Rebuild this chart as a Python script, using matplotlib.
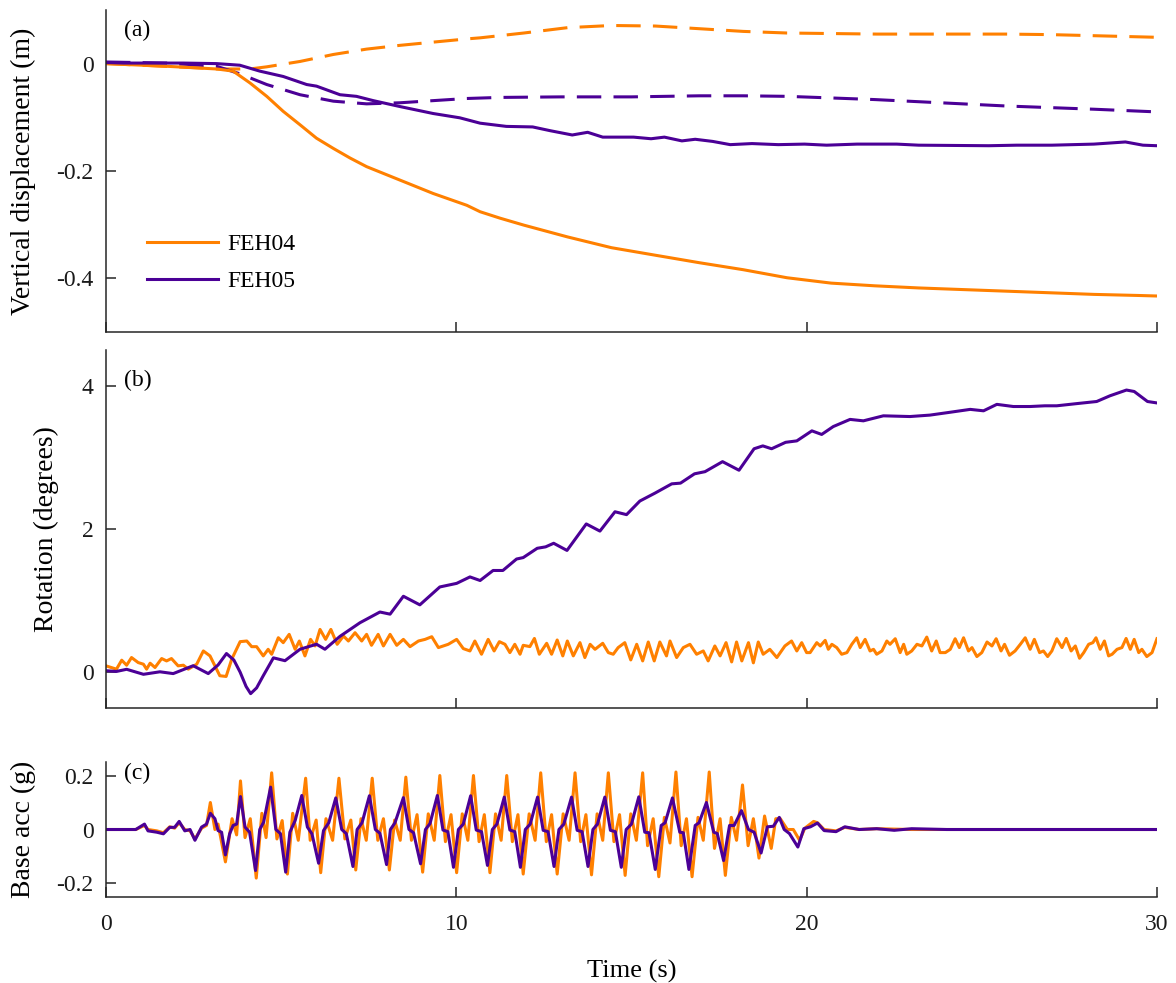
import matplotlib
matplotlib.use("Agg")
import matplotlib.pyplot as plt
from matplotlib.lines import Line2D

plt.rcParams['font.family'] = ['Liberation Serif', 'DejaVu Serif']
plt.rcParams['axes.unicode_minus'] = False

ORANGE = '#FF8000'
PURPLE = '#4B0096'
AXCOL = '#262626'

series_names = ['FEH04', 'FEH05']
panel_tags = ['(a)', '(b)', '(c)']
x_ticks = [0, 10, 20, 30]
x_ticklabels = ['0', '10', '20', '30']
a_ticks = [-0.4, -0.2, 0]
a_ticklabels = ['-0.4', '-0.2', '0']
b_ticks = [0, 2, 4]
b_ticklabels = ['0', '2', '4']
c_ticks = [-0.2, 0, 0.2]
c_ticklabels = ['-0.2', '0', '0.2']

# (a) vertical displacement (m): (time s, value)
disp_feh04_solid = [(0, 0), (1.73, -0.005), (3.16, -0.01), (3.63, -0.014), (4.11, -0.036), (4.59, -0.061),
                    (5.06, -0.089), (5.54, -0.114), (6.01, -0.139), (6.49, -0.158), (6.97, -0.176),
                    (7.44, -0.192), (8.39, -0.217), (9.34, -0.242), (10.3, -0.264), (10.68, -0.276),
                    (11.25, -0.288), (11.93, -0.301), (13.18, -0.323), (14.43, -0.343), (15.68, -0.357),
                    (16.94, -0.371), (18.19, -0.384), (19.44, -0.399), (20.7, -0.409), (21.94, -0.414),
                    (23.2, -0.418), (24.45, -0.421), (25.7, -0.424), (26.95, -0.427), (28.2, -0.43),
                    (29.46, -0.432), (30, -0.433)]
disp_feh04_dash = [(0, 0), (2.68, -0.008), (3.16, -0.01), (4.11, -0.01), (4.59, -0.006), (5.54, 0.004),
                   (6.49, 0.017), (7.44, 0.027), (8.39, 0.034), (9.34, 0.04), (10.3, 0.046), (10.68, 0.048),
                   (11.93, 0.057), (13.18, 0.067), (14.43, 0.071), (15.68, 0.07), (16.94, 0.065),
                   (18.19, 0.06), (19.44, 0.057), (20.7, 0.056), (22, 0.055), (24, 0.055), (25.7, 0.055),
                   (26.95, 0.054), (28.2, 0.052), (30, 0.049)]
disp_feh05_solid = [(0, 0.002), (0.5, 0.001), (2.2, 0.001), (3.16, 0.0), (3.82, -0.003), (4.39, -0.014),
                    (5.06, -0.024), (5.73, -0.039), (6.01, -0.042), (6.68, -0.058), (7.15, -0.061),
                    (7.63, -0.069), (8.39, -0.08), (9.34, -0.093), (10.1, -0.101), (10.68, -0.111),
                    (11.43, -0.117), (12.18, -0.118), (12.68, -0.125), (13.31, -0.133), (13.75, -0.128),
                    (14.18, -0.137), (15.06, -0.137), (15.56, -0.14), (15.94, -0.137), (16.44, -0.144),
                    (16.82, -0.141), (17.32, -0.145), (17.82, -0.151), (18.44, -0.149), (19.19, -0.151),
                    (19.94, -0.15), (20.57, -0.152), (21.44, -0.15), (22.57, -0.15), (23.2, -0.152),
                    (25.2, -0.153), (26.0, -0.152), (27.0, -0.152), (28.2, -0.15), (29.1, -0.146),
                    (29.6, -0.152), (30, -0.153)]
disp_feh05_dash = [(0, 0.003), (1.73, 0.001), (3.16, -0.005), (3.82, -0.019), (4.59, -0.039), (5.54, -0.058),
                   (6.49, -0.07), (7.44, -0.075), (8.39, -0.073), (9.34, -0.069), (10.3, -0.065),
                   (11.25, -0.063), (13, -0.062), (15, -0.062), (16.94, -0.06), (18.19, -0.06),
                   (19.44, -0.061), (20.7, -0.064), (21.94, -0.067), (23.2, -0.071), (24.45, -0.075),
                   (25.7, -0.079), (26.95, -0.082), (28.2, -0.085), (30, -0.09)]

# (b) rotation (degrees)
rot_feh04 = [(0, 0.088), (0.30, 0.042), (0.45, 0.167), (0.59, 0.097), (0.73, 0.204), (0.92, 0.134),
             (1.07, 0.111), (1.16, 0.042), (1.26, 0.125), (1.40, 0.065), (1.59, 0.19), (1.73, 0.157),
             (1.87, 0.19), (2.06, 0.088), (2.21, 0.097), (2.35, 0.042), (2.59, 0.111), (2.78, 0.296),
             (2.97, 0.227), (3.11, 0.088), (3.25, -0.05), (3.43, -0.06), (3.59, 0.181), (3.83, 0.426),
             (4.02, 0.435), (4.16, 0.356), (4.30, 0.356), (4.49, 0.227), (4.63, 0.319), (4.73, 0.25),
             (4.92, 0.481), (5.06, 0.412), (5.23, 0.528), (5.40, 0.319), (5.52, 0.435), (5.68, 0.227),
             (5.84, 0.458), (5.97, 0.366), (6.11, 0.597), (6.27, 0.458), (6.42, 0.597), (6.60, 0.389),
             (6.78, 0.505), (6.92, 0.435), (7.11, 0.551), (7.30, 0.435), (7.44, 0.528), (7.58, 0.375),
             (7.77, 0.528), (7.92, 0.366), (8.11, 0.528), (8.30, 0.375), (8.49, 0.458), (8.68, 0.356),
             (8.92, 0.435), (9.11, 0.458), (9.30, 0.495), (9.49, 0.343), (9.77, 0.389), (10.01, 0.458),
             (10.20, 0.329), (10.39, 0.296), (10.53, 0.435), (10.72, 0.25), (10.91, 0.458), (11.08, 0.296),
             (11.23, 0.426), (11.39, 0.389), (11.53, 0.273), (11.67, 0.389), (11.82, 0.25), (11.91, 0.375),
             (12.10, 0.357), (12.23, 0.471), (12.37, 0.25), (12.58, 0.403), (12.72, 0.25), (12.88, 0.449),
             (13.04, 0.227), (13.17, 0.435), (13.34, 0.227), (13.53, 0.412), (13.67, 0.204), (13.82, 0.389),
             (13.96, 0.319), (14.18, 0.403), (14.34, 0.273), (14.48, 0.25), (14.62, 0.343), (14.81, 0.412),
             (14.98, 0.171), (15.15, 0.389), (15.32, 0.157), (15.48, 0.421), (15.65, 0.157), (15.81, 0.421),
             (16.0, 0.227), (16.10, 0.435), (16.29, 0.204), (16.48, 0.343), (16.67, 0.389), (16.86, 0.25),
             (17.05, 0.296), (17.19, 0.157), (17.38, 0.366), (17.53, 0.227), (17.70, 0.412), (17.86, 0.143),
             (18.0, 0.421), (18.15, 0.157), (18.34, 0.412), (18.48, 0.13), (18.62, 0.421), (18.76, 0.25),
             (18.95, 0.319), (19.15, 0.204), (19.38, 0.366), (19.57, 0.435), (19.72, 0.296), (19.86, 0.412),
             (20.0, 0.273), (20.10, 0.273), (20.29, 0.412), (20.39, 0.366), (20.53, 0.444), (20.62, 0.319),
             (20.72, 0.389), (20.86, 0.343), (21.0, 0.25), (21.15, 0.273), (21.29, 0.389), (21.43, 0.48),
             (21.53, 0.343), (21.67, 0.458), (21.81, 0.296), (21.91, 0.319), (22.0, 0.25), (22.15, 0.296),
             (22.29, 0.435), (22.38, 0.389), (22.53, 0.467), (22.67, 0.273), (22.77, 0.389), (22.86, 0.25),
             (23.0, 0.296), (23.15, 0.389), (23.29, 0.366), (23.43, 0.49), (23.57, 0.296), (23.70, 0.435),
             (23.81, 0.273), (23.96, 0.273), (24.10, 0.319), (24.24, 0.467), (24.36, 0.343), (24.48, 0.48),
             (24.62, 0.296), (24.72, 0.343), (24.86, 0.218), (25.0, 0.273), (25.15, 0.421), (25.29, 0.366),
             (25.41, 0.467), (25.55, 0.296), (25.65, 0.389), (25.79, 0.236), (25.95, 0.296), (26.10, 0.389),
             (26.24, 0.48), (26.38, 0.319), (26.50, 0.458), (26.65, 0.273), (26.76, 0.296), (26.88, 0.218),
             (27.0, 0.296), (27.14, 0.467), (27.29, 0.343), (27.41, 0.471), (27.55, 0.296), (27.67, 0.366),
             (27.79, 0.194), (27.91, 0.273), (28.05, 0.389), (28.17, 0.412), (28.26, 0.48), (28.38, 0.319),
             (28.50, 0.435), (28.62, 0.227), (28.72, 0.25), (28.86, 0.319), (29.0, 0.343), (29.12, 0.471),
             (29.24, 0.319), (29.35, 0.458), (29.48, 0.273), (29.57, 0.319), (29.71, 0.218), (29.86, 0.273),
             (30.0, 0.467)]
rot_feh05 = [(0, 0.02), (0.30, 0.01), (0.59, 0.04), (1.07, -0.03), (1.54, 0.005), (1.92, -0.02), (2.49, 0.09),
             (2.92, -0.02), (3.2, 0.1), (3.44, 0.26), (3.65, 0.17), (3.83, 0.0), (4.0, -0.2), (4.13, -0.3),
             (4.3, -0.22), (4.49, -0.05), (4.78, 0.2), (5.11, 0.16), (5.54, 0.32), (6.01, 0.39), (6.25, 0.32),
             (6.68, 0.5), (7.25, 0.69), (7.82, 0.84), (8.11, 0.81), (8.49, 1.06), (8.96, 0.94), (9.53, 1.19),
             (10.01, 1.24), (10.39, 1.33), (10.68, 1.28), (11.05, 1.42), (11.33, 1.42), (11.72, 1.58),
             (11.91, 1.6), (12.31, 1.73), (12.55, 1.75), (12.78, 1.8), (13.16, 1.7), (13.71, 2.07), (14.1, 1.97),
             (14.53, 2.24), (14.86, 2.2), (15.24, 2.39), (15.67, 2.5), (16.15, 2.63), (16.4, 2.64), (16.8, 2.77),
             (17.1, 2.8), (17.6, 2.94), (18.07, 2.82), (18.5, 3.12), (18.75, 3.16), (19.0, 3.12), (19.4, 3.21),
             (19.72, 3.23), (20.15, 3.37), (20.43, 3.32), (20.76, 3.43), (21.24, 3.53), (21.62, 3.51),
             (22.19, 3.58), (22.95, 3.57), (23.52, 3.59), (24.1, 3.63), (24.67, 3.67), (25.05, 3.65),
             (25.43, 3.74), (25.9, 3.71), (26.38, 3.71), (26.8, 3.72), (27.14, 3.72), (27.7, 3.75),
             (28.28, 3.78), (28.66, 3.86), (29.13, 3.94), (29.35, 3.92), (29.73, 3.78), (30.0, 3.76)]

# (c) base acceleration (g)
acc_feh04 = [(0, 0), (0.85, 0), (1.1, 0.015), (1.2, 0.0), (1.45, -0.005), (1.64, -0.012), (1.82, 0.01),
             (1.96, 0.005), (2.09, 0.025), (2.25, 0.0), (2.4, -0.005), (2.54, -0.035), (2.73, 0.005),
             (2.87, 0.015), (2.98, 0.1), (3.11, 0.0), (3.2, 0.02), (3.41, -0.12), (3.6, 0.04), (3.73, -0.02),
             (3.84, 0.18), (3.97, -0.03), (4.12, 0.04), (4.29, -0.18), (4.45, 0.06), (4.57, -0.03),
             (4.73, 0.21), (4.88, -0.035), (5.03, 0.033), (5.18, -0.165), (5.33, 0.06), (5.49, -0.04),
             (5.70, 0.19), (5.83, -0.04), (6.0, 0.035), (6.13, -0.16), (6.28, 0.04), (6.47, -0.04),
             (6.65, 0.19), (6.82, -0.035), (6.99, 0.035), (7.13, -0.15), (7.28, 0.04), (7.43, -0.04),
             (7.60, 0.19), (7.76, -0.04), (7.92, 0.04), (8.09, -0.15), (8.24, 0.035), (8.40, -0.04),
             (8.56, 0.194), (8.72, -0.04), (8.88, 0.055), (9.04, -0.158), (9.2, 0.058), (9.37, -0.04),
             (9.53, 0.2), (9.69, -0.045), (9.85, 0.055), (10.01, -0.16), (10.17, 0.058), (10.33, -0.04),
             (10.49, 0.2), (10.65, -0.045), (10.8, 0.055), (10.96, -0.16), (11.12, 0.058), (11.28, -0.04),
             (11.44, 0.2), (11.6, -0.045), (11.76, 0.055), (11.91, -0.165), (12.08, 0.058), (12.25, -0.04),
             (12.41, 0.21), (12.57, -0.045), (12.72, 0.055), (12.88, -0.165), (13.05, 0.058), (13.22, -0.04),
             (13.39, 0.21), (13.55, -0.045), (13.7, 0.055), (13.86, -0.168), (14.02, 0.058), (14.18, -0.04),
             (14.34, 0.21), (14.5, -0.045), (14.66, 0.055), (14.82, -0.17), (14.98, 0.058), (15.14, -0.04),
             (15.32, 0.21), (15.46, -0.06), (15.62, 0.04), (15.78, -0.175), (15.94, 0.045), (16.1, -0.05),
             (16.27, 0.213), (16.42, -0.06), (16.57, 0.04), (16.73, -0.175), (16.9, 0.045), (17.05, -0.04),
             (17.22, 0.213), (17.37, -0.07), (17.53, 0.04), (17.68, -0.17), (17.85, 0.045), (18.0, -0.04),
             (18.17, 0.165), (18.33, -0.06), (18.48, 0.04), (18.64, -0.106), (18.8, 0.05), (18.99, -0.07),
             (19.12, 0.04), (19.25, 0.04), (19.45, 0.0), (19.62, 0.0), (19.8, -0.04), (19.95, 0.005),
             (20.2, 0.03), (20.31, 0.025), (20.5, 0.0), (20.84, -0.005), (21.09, 0.008), (21.5, 0.0),
             (22, 0.003), (23, 0), (30, 0)]
acc_feh05 = [(0, 0), (0.85, 0), (1.1, 0.02), (1.2, -0.005), (1.45, -0.01), (1.64, -0.016), (1.82, 0.008),
             (1.96, 0.008), (2.09, 0.03), (2.25, -0.005), (2.4, 0.0), (2.54, -0.04), (2.73, 0.009),
             (2.87, 0.02), (2.98, 0.06), (3.11, 0.04), (3.2, -0.004), (3.3, -0.01), (3.41, -0.094),
             (3.53, -0.016), (3.63, 0.015), (3.73, 0.02),
             (3.84, 0.122), (3.97, 0.009), (4.1, -0.01), (4.27, -0.152), (4.39, 0.0), (4.5, 0.027),
             (4.70, 0.157), (4.85, 0.0), (4.98, -0.015), (5.13, -0.158), (5.25, -0.01), (5.4, 0.033),
             (5.59, 0.126), (5.75, 0.009), (5.88, -0.016), (6.07, -0.125), (6.21, -0.004), (6.36, 0.025),
             (6.56, 0.117), (6.73, 0.0), (6.86, -0.015), (7.05, -0.137), (7.17, 0.0), (7.31, 0.025),
             (7.52, 0.125), (7.69, 0.0), (7.82, -0.014), (8.01, -0.13), (8.12, 0.0), (8.25, 0.025),
             (8.49, 0.118), (8.65, 0.0), (8.78, -0.012), (8.98, -0.127), (9.12, 0.0), (9.25, 0.022),
             (9.46, 0.126), (9.62, -0.002), (9.76, -0.008), (9.92, -0.14), (10.06, 0.0), (10.2, 0.02),
             (10.41, 0.125), (10.57, -0.002), (10.72, -0.008), (10.89, -0.133), (11.03, 0.0), (11.16, 0.02),
             (11.37, 0.12), (11.53, -0.002), (11.67, -0.008), (11.83, -0.14), (11.97, 0.0), (12.11, 0.02),
             (12.32, 0.12), (12.48, -0.003), (12.62, -0.008), (12.79, -0.137), (12.93, 0.0), (13.07, 0.02),
             (13.29, 0.12), (13.45, -0.003), (13.59, -0.008), (13.76, -0.137), (13.9, 0.0), (14.03, 0.02),
             (14.24, 0.12), (14.4, -0.003), (14.54, -0.008), (14.71, -0.14), (14.85, 0.0), (15.0, 0.02),
             (15.21, 0.121), (15.38, -0.01), (15.5, -0.012), (15.68, -0.148), (15.85, 0.015), (15.96, 0.025),
             (16.17, 0.117), (16.38, -0.01), (16.48, -0.012), (16.64, -0.148), (16.82, 0.015), (16.93, 0.025),
             (17.14, 0.1), (17.35, -0.01), (17.45, -0.015), (17.63, -0.115), (17.8, 0.015), (17.93, 0.015),
             (18.14, 0.07), (18.34, 0.0), (18.5, -0.01), (18.7, -0.087), (18.88, 0.01), (19.05, 0.012),
             (19.22, 0.045), (19.36, 0.0), (19.51, -0.015), (19.75, -0.065), (19.92, 0.003), (20.11, 0.01),
             (20.31, 0.024), (20.5, -0.004), (20.84, -0.008), (21.09, 0.01), (21.5, 0.0), (22.0, 0.003),
             (22.5, -0.003), (23.0, 0.003), (24, 0), (30, 0)]


def xy(pairs):
    return [p[0] for p in pairs], [p[1] for p in pairs]


fig = plt.figure(figsize=(11.76, 9.83), dpi=100)
L, W = 0.0901, 0.8937
ax_a = fig.add_axes([L, 0.6623, W, 0.3276])
ax_b = fig.add_axes([L, 0.2798, W, 0.3642])
ax_c = fig.add_axes([L, 0.0875, W, 0.1373])

LW = 2.2
DASH = (0, (8, 4))

ax_a.plot(*xy(disp_feh04_dash), color=ORANGE, lw=LW, ls=DASH)
ax_a.plot(*xy(disp_feh05_dash), color=PURPLE, lw=LW, ls=DASH)
ax_a.plot(*xy(disp_feh04_solid), color=ORANGE, lw=LW)
ax_a.plot(*xy(disp_feh05_solid), color=PURPLE, lw=LW)

ax_b.plot(*xy(rot_feh04), color=ORANGE, lw=LW)
ax_b.plot(*xy(rot_feh05), color=PURPLE, lw=LW)

ax_c.plot(*xy(acc_feh04), color=ORANGE, lw=LW)
ax_c.plot(*xy(acc_feh05), color=PURPLE, lw=LW)

ax_a.set_ylim(-0.5, 0.1)
ax_b.set_ylim(-0.5, 4.5)
ax_c.set_ylim(-0.25, 0.25)
ax_a.set_yticks(a_ticks, a_ticklabels)
ax_b.set_yticks(b_ticks, b_ticklabels)
ax_c.set_yticks(c_ticks, c_ticklabels)

for ax in (ax_a, ax_b, ax_c):
    ax.set_xlim(0, 30)
    ax.set_xticks(x_ticks)
    for s in ('top', 'right'):
        ax.spines[s].set_visible(False)
    for s in ('left', 'bottom'):
        ax.spines[s].set_color(AXCOL)
        ax.spines[s].set_linewidth(1.1)
    ax.tick_params(direction='in', length=7, width=1.1, color=AXCOL, labelsize=17,
                   labelcolor='#1a1a1a')
    ax.tick_params(axis='y', pad=9)
    ax.tick_params(axis='x', pad=12)

ax_a.set_xticklabels([])
ax_b.set_xticklabels([])
ax_c.set_xticklabels(x_ticklabels)

ax_a.set_ylabel('Vertical displacement (m)', fontsize=20)
ax_b.set_ylabel('Rotation (degrees)', fontsize=20)
ax_c.set_ylabel('Base acc (g)', fontsize=20)
ax_c.set_xlabel('Time (s)', fontsize=19, labelpad=18)
ax_a.yaxis.set_label_coords(-0.067, 0.5)
ax_b.yaxis.set_label_coords(-0.045, 0.5)
ax_c.yaxis.set_label_coords(-0.067, 0.5)

for ax, tag, yy in zip((ax_a, ax_b, ax_c), panel_tags, (0.935, 0.916, 0.912)):
    ax.text(0.017, yy, tag, transform=ax.transAxes, fontsize=17, ha='left', va='center')

handles = [Line2D([], [], color=ORANGE, lw=LW), Line2D([], [], color=PURPLE, lw=LW)]
ax_a.legend(handles, series_names, loc='upper left', bbox_to_anchor=(0.039, 0.305), frameon=False,
            fontsize=17, handlelength=3.0, handletextpad=0.4, labelspacing=0.65, borderpad=0,
            borderaxespad=0)

fig.savefig('out.png', dpi=100)
